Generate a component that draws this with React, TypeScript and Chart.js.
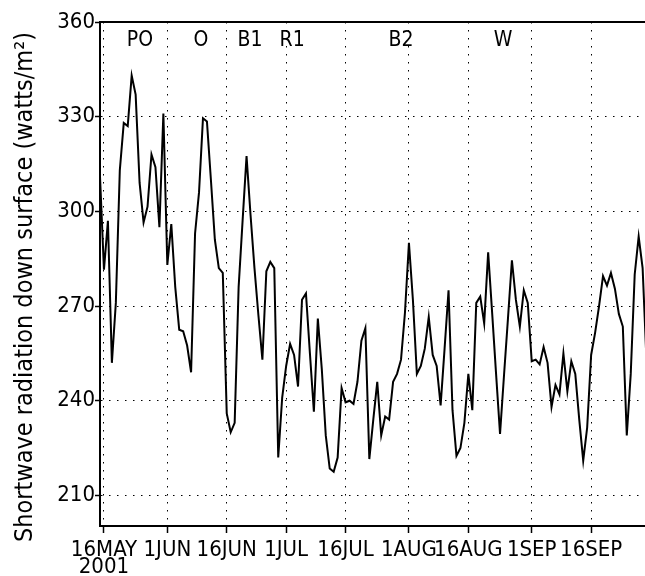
import React, { useEffect, useRef } from "react";
import { Chart, registerables } from "chart.js";

Chart.register(...registerables);

// Daily values, first value is 15 May 2001 (day offset -1 relative to 16 May)
const FIRST_DAY = -1;
const radiation = [
  311, 281.5, 297, 252, 271, 313, 328, 327, 343, 337,
  309, 296.5, 301.5, 318, 314, 295, 331, 283, 296, 276,
  262.5, 262, 257.5, 249, 293, 306, 329.5, 328.5, 310, 291,
  282, 280.5, 236, 230, 233, 276, 297, 317.5, 299, 282,
  267, 253, 281, 284, 282, 222, 241, 251, 258, 254.5,
  244.5, 272, 274, 255, 236.5, 266, 250, 229, 218.5, 217.5,
  222, 244, 239.5, 240, 239, 246, 259, 263, 221.5, 234,
  246, 229, 235, 234, 246, 248.5, 253, 268, 290, 272,
  248.5, 251, 256.5, 266.5, 254.5, 251, 238.5, 256.5, 275, 237,
  222.5, 225, 233, 248.5, 237, 271, 273, 264.5, 287, 268,
  248.5, 229.5, 248, 266, 284.5, 272, 263.5, 275, 271, 252.5,
  253, 251.5, 257, 252, 238, 245, 242, 255, 243, 252.5,
  248.5, 234, 221, 231.5, 254.5, 261.5, 270, 279.5, 276.5, 280.5,
  275.5, 267.5, 263.5, 229, 248.5, 280, 292, 282, 252,
];

const tickDays = [0, 16, 31, 46, 61, 77, 92, 108, 123];
const tickLabels = ["16MAY", "1JUN", "16JUN", "1JUL", "16JUL", "1AUG", "16AUG", "1SEP", "16SEP"];
const yearLabel = "2001";
const yTicks = [210, 240, 270, 300, 330, 360];
const markerLabels = ["PO", "O", "B1", "R1", "B2", "W"];
const markerDays = [9.1, 24.5, 36.9, 47.5, 75, 100.8];
const yTitle = "Shortwave radiation down surface (watts/m\u00B2)";

const FONT = "'DejaVu Sans Condensed', 'DejaVu Sans', sans-serif";

const overlay = {
  id: "overlay",
  afterDraw(chart: any) {
    const { ctx, chartArea, scales } = chart;
    ctx.save();
    ctx.strokeStyle = "#000";
    ctx.lineWidth = 2;
    ctx.beginPath();
    ctx.moveTo(chartArea.left - 1, chartArea.top);
    ctx.lineTo(chartArea.right, chartArea.top);
    ctx.stroke();
    ctx.fillStyle = "#000";
    ctx.font = `21px ${FONT}`;
    ctx.textAlign = "center";
    ctx.textBaseline = "middle";
    markerLabels.forEach((t, i) => {
      ctx.fillText(t, scales.x.getPixelForValue(markerDays[i]), chartArea.top + 19);
    });
    ctx.font = `25px ${FONT}`;
    ctx.translate(17, 279);
    ctx.rotate(-Math.PI / 2);
    ctx.fillText(yTitle, 0, 0);
    ctx.restore();
  },
};

export default function App() {
  const ref = useRef<HTMLCanvasElement>(null);
  useEffect(() => {
    if (!ref.current) return;
    const points = radiation.map((v, i) => ({ x: FIRST_DAY + i, y: v }));
    const chart = new Chart(ref.current, {
      type: "line",
      data: {
        datasets: [
          {
            data: points,
            borderColor: "#000",
            borderWidth: 2,
            pointRadius: 0,
            pointHoverRadius: 0,
            pointBorderWidth: 0,
            pointHitRadius: 0,
            tension: 0,
            fill: false,
          },
        ],
      },
      options: {
        animation: false,
        responsive: false,
        events: [],
        layout: { autoPadding: false, padding: { top: 14, right: 0, left: 0, bottom: 0 } },
        plugins: { legend: { display: false }, tooltip: { enabled: false }, title: { display: false } },
        scales: {
          x: {
            type: "linear",
            min: -1,
            max: 136.6,
            afterBuildTicks: (scale: any) => {
              scale.ticks = tickDays.map((v) => ({ value: v }));
            },
            afterFit: (scale: any) => {
              scale.height = 50;
              scale.paddingRight = 0;
            },
            ticks: {
              autoSkip: false,
              maxRotation: 0,
              minRotation: 0,
              padding: 8,
              color: "#000",
              font: { family: FONT, size: 22, lineHeight: 0.8 },
              callback: (v: any) => {
                const i = tickDays.indexOf(Number(v));
                if (i < 0) return "";
                return i === 0 ? [tickLabels[i], yearLabel] : tickLabels[i];
              },
            },
            grid: {
              color: "#000",
              lineWidth: 1,
              tickLength: 7,
              tickColor: "#000",
              tickWidth: 1.5,
              tickBorderDash: [],
            },
            border: { display: true, color: "#000", width: 2, dash: [1.5, 6.5] },
          },
          y: {
            type: "linear",
            min: 200.3,
            max: 360,
            afterBuildTicks: (scale: any) => {
              scale.ticks = yTicks.map((v) => ({ value: v }));
            },
            afterFit: (scale: any) => {
              scale.width = 92;
            },
            ticks: {
              padding: 0,
              color: "#000",
              font: { family: FONT, size: 22 },
              callback: (v: any) => String(v),
            },
            grid: {
              color: "#000",
              lineWidth: 1,
              tickLength: 5,
              tickColor: "#000",
              tickWidth: 1.5,
              tickBorderDash: [],
            },
            border: { display: true, color: "#000", width: 2, dash: [1.5, 6.5] },
          },
        },
      },
      plugins: [overlay],
    });
    return () => chart.destroy();
  }, []);
  return (
    <div style={{ position: "absolute", left: 8, top: 8, width: 637, height: 568, overflow: "hidden" }}>
      <canvas ref={ref} width={637} height={568} style={{ display: "block" }} />
    </div>
  );
}
